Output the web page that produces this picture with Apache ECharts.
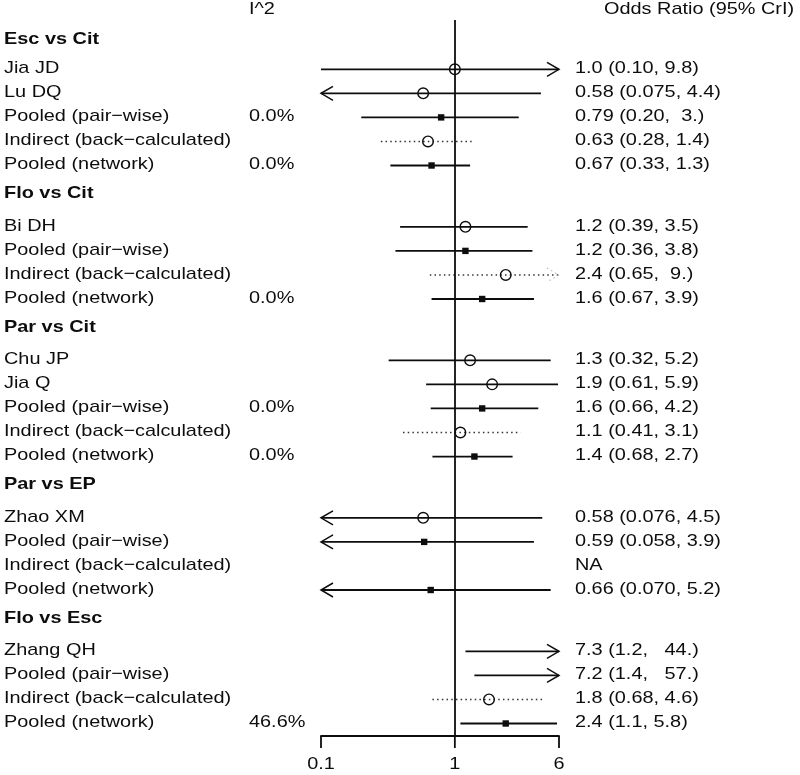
<!DOCTYPE html>
<html><head><meta charset="utf-8">
<script src="https://cdn.jsdelivr.net/npm/echarts@6/dist/echarts.min.js"></script>
<style>html,body{margin:0;padding:0;background:#fff}#c{width:800px;height:775px}</style>
</head><body><div id="c"></div>
<script>
// ---------------- data ----------------
const groups = ['Esc vs Cit', 'Flo vs Cit', 'Par vs Cit', 'Par vs EP', 'Flo vs Esc'];
const rowGroup = [0,0,0,0,0, 1,1,1,1, 2,2,2,2,2, 3,3,3,3, 4,4,4,4];
const rowLabels = [
  'Jia JD', 'Lu DQ', 'Pooled (pair\u2212wise)', 'Indirect (back\u2212calculated)', 'Pooled (network)',
  'Bi DH', 'Pooled (pair\u2212wise)', 'Indirect (back\u2212calculated)', 'Pooled (network)',
  'Chu JP', 'Jia Q', 'Pooled (pair\u2212wise)', 'Indirect (back\u2212calculated)', 'Pooled (network)',
  'Zhao XM', 'Pooled (pair\u2212wise)', 'Indirect (back\u2212calculated)', 'Pooled (network)',
  'Zhang QH', 'Pooled (pair\u2212wise)', 'Indirect (back\u2212calculated)', 'Pooled (network)'
];
const rowType = [
  'study','study','pair','ind','net',
  'study','pair','ind','net',
  'study','study','pair','ind','net',
  'study','pair','ind','net',
  'study','pair','ind','net'
];
const est   = [1.0, 0.58, 0.79, 0.63, 0.67,  1.2, 1.2, 2.4, 1.6,  1.3, 1.9, 1.6, 1.1, 1.4,  0.58, 0.59, null, 0.66,  7.3, 7.2, 1.8, 2.4];
const lower = [0.10, 0.075, 0.20, 0.28, 0.33,  0.39, 0.36, 0.65, 0.67,  0.32, 0.61, 0.66, 0.41, 0.68,  0.076, 0.058, null, 0.070,  1.2, 1.4, 0.68, 1.1];
const upper = [9.8, 4.4, 3.0, 1.4, 1.3,  3.5, 3.8, 9.0, 3.9,  5.2, 5.9, 4.2, 3.1, 2.7,  4.5, 3.9, null, 5.2,  44, 57, 4.6, 5.8];
const iSquared = ['', '', '0.0%', '', '0.0%',  '', '', '', '0.0%',  '', '', '0.0%', '', '0.0%',  '', '', '', '',  '', '', '', '46.6%'];
const ciText = [
  '1.0 (0.10, 9.8)', '0.58 (0.075, 4.4)', '0.79 (0.20,  3.)', '0.63 (0.28, 1.4)', '0.67 (0.33, 1.3)',
  '1.2 (0.39, 3.5)', '1.2 (0.36, 3.8)', '2.4 (0.65,  9.)', '1.6 (0.67, 3.9)',
  '1.3 (0.32, 5.2)', '1.9 (0.61, 5.9)', '1.6 (0.66, 4.2)', '1.1 (0.41, 3.1)', '1.4 (0.68, 2.7)',
  '0.58 (0.076, 4.5)', '0.59 (0.058, 3.9)', 'NA', '0.66 (0.070, 5.2)',
  '7.3 (1.2,   44.)', '7.2 (1.4,   57.)', '1.8 (0.68, 4.6)', '2.4 (1.1, 5.8)'
];
const tickValues = [0.1, 1, 6];
const tickLabels = ['0.1', '1', '6'];
const headerI2 = 'I^2';
const headerOR = 'Odds Ratio (95% CrI)';

// ---------------- layout / style ----------------
const X_MIN = 0.1, X_MAX = 6;
const GAP = 2.55, HEAD_OFF = 1.21;
const Y_MIN = -2.05, Y_MAX = 27.72;
const FS = 17, SX = 1.17, TEXT_DY = -1;
const INK = '#0d0d0d';
const FONT = '"Liberation Sans", Arial, Helvetica, sans-serif';
const LEFT_X = 4, I2_X = 249, RIGHT_X = 575;
const ARROW_LEN = 12, ARROW_HALF = 7;
const LW = 1.8;
const DOT = [1.5, 3.2];

// row positions (row units)
const rowPos = [], headPos = [];
(function () {
  let p = -1, prev = -1;
  rowGroup.forEach(function (g) {
    if (g !== prev) {
      if (prev < 0) { headPos.push(p + 1 - HEAD_OFF); }
      else { headPos.push(p + HEAD_OFF); p += GAP - 1; }
      prev = g;
    }
    p += 1;
    rowPos.push(p);
  });
})();

function txt(x, y, s, bold, align) {
  return {
    type: 'text', x: x, y: y + TEXT_DY, scaleX: SX,
    style: {
      text: s, x: 0, y: 0, fill: INK,
      font: (bold ? 'bold ' : '') + FS + 'px ' + FONT,
      align: align || 'left', verticalAlign: 'middle'
    }
  };
}
function chevron(x, y, dir, dotted) {
  return {
    type: 'polyline',
    shape: { points: [[x - dir * ARROW_LEN, y - ARROW_HALF], [x, y], [x - dir * ARROW_LEN, y + ARROW_HALF]] },
    style: { stroke: dotted ? '#bbb' : INK, lineWidth: dotted ? 1.2 : 1.5, fill: null, lineDash: dotted ? DOT : null }
  };
}

function renderRow(params, api) {
  const i = params.dataIndex;
  const y = api.coord([1, rowPos[i]])[1];
  const ch = [];
  ch.push(txt(LEFT_X, y, rowLabels[i], false));
  if (iSquared[i]) ch.push(txt(I2_X, y, iSquared[i], false));
  ch.push(txt(RIGHT_X, y, ciText[i], false));
  if (lower[i] != null) {
    const dotted = rowType[i] === 'ind';
    const lo = Math.max(lower[i], X_MIN), hi = Math.min(upper[i], X_MAX);
    const x1 = api.coord([lo, rowPos[i]])[0];
    const x2 = api.coord([hi, rowPos[i]])[0];
    ch.push({
      type: 'line', shape: { x1: x1, y1: y, x2: x2, y2: y },
      style: { stroke: dotted ? '#333' : INK, lineWidth: dotted ? 1.5 : LW, lineDash: dotted ? DOT : null }
    });
    if (lower[i] < X_MIN) ch.push(chevron(x1, y, -1, dotted));
    if (upper[i] > X_MAX) ch.push(chevron(x2, y, 1, dotted));
    if (est[i] != null && est[i] >= X_MIN && est[i] <= X_MAX) {
      const xe = api.coord([est[i], rowPos[i]])[0];
      if (rowType[i] === 'study' || rowType[i] === 'ind') {
        ch.push({ type: 'circle', shape: { cx: xe, cy: y, r: 5.3 }, style: { stroke: INK, lineWidth: 1.4, fill: null } });
      } else {
        ch.push({ type: 'rect', shape: { x: xe - 3.2, y: y - 3.2, width: 6.4, height: 6.4 }, style: { fill: INK } });
      }
    }
  }
  return { type: 'group', children: ch };
}

function renderHead(params, api) {
  const i = params.dataIndex;
  const y = api.coord([1, headPos[i]])[1];
  return txt(LEFT_X, y, groups[i], true);
}

function renderTick(params, api) {
  const i = params.dataIndex;
  const p = api.coord([tickValues[i], Y_MAX]);
  return {
    type: 'group', children: [
      { type: 'line', shape: { x1: p[0], y1: p[1], x2: p[0], y2: p[1] + 12 }, style: { stroke: INK, lineWidth: LW } },
      txt(p[0], p[1] + 29, tickLabels[i], false, 'center')
    ]
  };
}

const chart = echarts.init(document.getElementById('c'), null, { renderer: 'canvas' });
chart.setOption({
  animation: false,
  backgroundColor: '#fff',
  grid: { left: 321, right: 241, top: 20, bottom: 39, containLabel: false },
  xAxis: {
    type: 'log', logBase: 10, min: X_MIN, max: X_MAX,
    axisLine: { show: true, onZero: false, lineStyle: { color: INK, width: LW } },
    axisTick: { show: false }, axisLabel: { show: false }, splitLine: { show: false }
  },
  yAxis: {
    type: 'value', inverse: true, min: Y_MIN, max: Y_MAX, show: false,
    axisLine: { show: false }, splitLine: { show: false }
  },
  graphic: [
    txt(I2_X, 10, headerI2, false),
    txt(604, 10, headerOR, false)
  ],
  series: [
    {
      type: 'custom', name: 'ref', clip: false, silent: true,
      data: tickValues.map(function (v) { return [v, Y_MAX]; }),
      renderItem: renderTick,
      markLine: {
        silent: true, symbol: 'none', label: { show: false },
        lineStyle: { type: 'solid', color: INK, width: LW },
        data: [{ xAxis: 1 }]
      }
    },
    {
      type: 'custom', name: 'headings', clip: false, silent: true,
      data: headPos.map(function (p) { return [1, p]; }),
      renderItem: renderHead
    },
    {
      type: 'custom', name: 'rows', clip: false, silent: true,
      data: rowPos.map(function (p) { return [1, p]; }),
      renderItem: renderRow
    }
  ]
});
</script></body></html>
